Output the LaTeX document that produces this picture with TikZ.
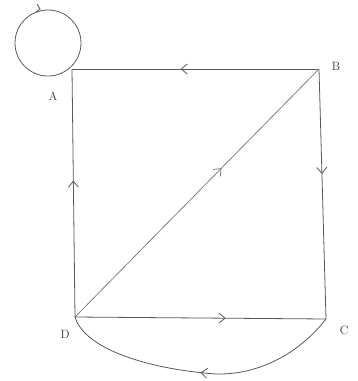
\documentclass[tikz,border=0pt]{standalone}
\usetikzlibrary{arrows.meta,decorations.markings}
\begin{document}
\begin{tikzpicture}[x=1pt,y=-1pt,
  edge/.style={draw=black!65, line width=0.8pt},
  midarrow/.style={postaction={decorate},decoration={markings,
     mark=at position #1 with {\arrow{Straight Barb[length=6pt,width=10pt,line width=0.8pt]}}}},
  vlabel/.style={font=\large, text=black!80}]
\useasboundingbox (0,0) rectangle (357,381);
\coordinate (A) at (72,69);
\coordinate (B) at (319,69);
\coordinate (C) at (326,319);
\coordinate (D) at (75,317);
\node[vlabel] (lA) at (53,96) {A};
\node[vlabel] (lB) at (336,66) {B};
\node[vlabel] (lC) at (344,330) {C};
\node[vlabel] (lD) at (65,334) {D};
% loop at A
\draw[edge] (48,43) circle (33);
\draw[edge] (36,12) -- (40,9) -- (37,4);
% edges
\draw[edge, midarrow=0.56] (B) -- (A);
\draw[edge, midarrow=0.42] (B) -- (C);
\draw[edge, draw=black!50, midarrow=0.6] (D) -- (B);
\draw[edge, midarrow=0.55] (D) -- (A);
\draw[edge, midarrow=0.6] (D) -- (C);
\draw[edge, midarrow=0.5] (C) .. controls (290,365) and (240,378) .. (205,373)
   .. controls (150,368) and (85,350) .. (D);
\end{tikzpicture}
\end{document}
